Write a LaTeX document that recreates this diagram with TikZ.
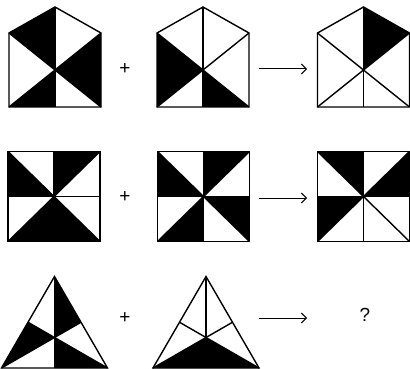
\documentclass[tikz,border=0pt]{standalone}
\usepackage{fontspec}
\setmainfont{Liberation Sans}
\usetikzlibrary{arrows.meta}

\begin{document}
\begin{tikzpicture}[
    x=1pt, y=-1pt,
    edge/.style={draw=black, line width=1.4pt, line join=miter},
    sign/.style={font=\fontsize{19}{19}\selectfont, inner sep=0pt},
    arrow/.style={-{Straight Barb[length=5pt, width=10pt, line width=1pt]}, line width=1pt},
    pics/house/.style={code={
        \coordinate (c) at (0,0);
        \coordinate (t) at (0,-63);   \coordinate (r) at (46,-37);
        \coordinate (br) at (46,37);  \coordinate (bm) at (0,37);
        \coordinate (bl) at (-46,37); \coordinate (l) at (-46,-37);
        \foreach \a/\b in {#1} \fill (c) -- (\a) -- (\b) -- cycle;
        \foreach \p in {t,r,br,bm,bl,l} \draw[edge] (c) -- (\p);
        \draw[edge] (t) -- (r) -- (br) -- (bl) -- (l) -- cycle;
    }},
    pics/square/.style={code={
        \coordinate (c) at (0,0);
        \coordinate (tl) at (-46,-45); \coordinate (tm) at (0,-45);
        \coordinate (tr) at (46,-45);  \coordinate (rm) at (46,0);
        \coordinate (br) at (46,45);   \coordinate (bm) at (0,45);
        \coordinate (bl) at (-46,45);  \coordinate (lm) at (-46,0);
        \foreach \a/\b in {#1} \fill (c) -- (\a) -- (\b) -- cycle;
        \foreach \p in {tl,tm,tr,rm,br,bm,bl,lm} \draw[edge] (c) -- (\p);
        \draw[edge] (tl) -- (tr) -- (br) -- (bl) -- cycle;
    }},
    pics/triangle/.style={code={
        \coordinate (c) at (0,0);
        \coordinate (t) at (0,-61);        \coordinate (rm) at (26.5,-15.25);
        \coordinate (br) at (53,30.5);     \coordinate (bm) at (0,30.5);
        \coordinate (bl) at (-53,30.5);    \coordinate (lm) at (-26.5,-15.25);
        \foreach \a/\b in {#1} \fill (c) -- (\a) -- (\b) -- cycle;
        \foreach \p in {t,rm,br,bm,bl,lm} \draw[edge] (c) -- (\p);
        \draw[edge] (t) -- (br) -- (bl) -- cycle;
    }}
]
    \useasboundingbox (0,0) rectangle (410,369);

    % row 1: houses
    \pic (h1) at (55,70)    {house={t/l, r/br, bl/bm}};
    \pic (h2) at (203,70)   {house={l/bl, bm/br}};
    \pic (h3) at (363.5,70) {house={t/r}};

    % row 2: squares
    \pic (s1) at (54,196.5)    {square={tm/tr, br/bm, bm/bl, lm/tl}};
    \pic (s2) at (203.5,196.5) {square={tm/tr, rm/br, bm/bl, lm/tl}};
    \pic (s3) at (363.5,196.5) {square={tl/tm, tr/rm, bl/lm}};

    % row 3: triangles
    \pic (t1) at (54.5,337.5) {triangle={t/rm, lm/bl, bm/br}};
    \pic (t2) at (206,337.5)  {triangle={bl/bm, bm/br}};

    % signs
    \node[sign] (plus1) at (125,69)  {+};
    \node[sign] (plus2) at (125,197) {+};
    \node[sign] (plus3) at (125,318) {+};
    \node[sign] (quest) at (365,315) {?};

    % arrows
    \coordinate (a1) at (259,69);  \coordinate (b1) at (307,69);
    \coordinate (a2) at (259,198); \coordinate (b2) at (307,198);
    \coordinate (a3) at (259,318); \coordinate (b3) at (307,318);
    \draw[arrow] (a1) -- (b1);
    \draw[arrow] (a2) -- (b2);
    \draw[arrow] (a3) -- (b3);
\end{tikzpicture}
\end{document}
